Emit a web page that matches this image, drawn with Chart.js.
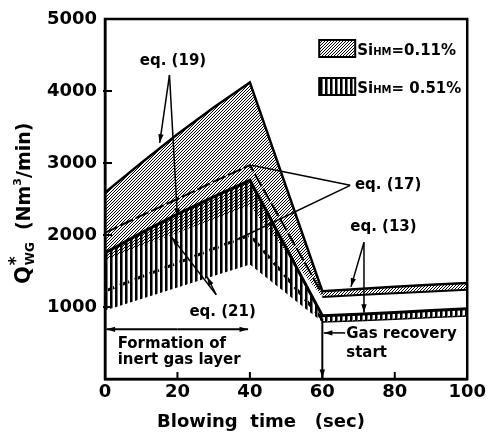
<!DOCTYPE html>
<html>
<head>
<meta charset="utf-8">
<script src="https://cdn.jsdelivr.net/npm/chart.js@4.4.1/dist/chart.umd.min.js"></script>
<style>
  body { margin: 0; background: #fff; }
  canvas { display: block; }
</style>
</head>
<body>
<canvas id="chart" width="489" height="435"></canvas>
<script>
// blowing time (sec)
const times = [0, 10, 20, 30, 40, 60, 70, 80, 90, 100];

// Si_HM = 0.11 %  (upper = eq.(19), lower = eq.(21), after 60 s eq.(13))
const upper011 = [2590, 3000, 3400, 3770, 4120, 1220, 1250, 1280, 1310, 1335];
const lower011 = [1650, 1840, 2030, 2220, 2400, 1140, 1165, 1190, 1215, 1240];
const eq17_011 = [2030, 2270, 2500, 2740, 2970, 1180, null, null, null, null];

// Si_HM = 0.51 %
const upper051 = [1750, 2030, 2290, 2530, 2760, 880, 900, 925, 950, 975];
const lower051 = [950, 1110, 1270, 1430, 1590, 790, 810, 830, 855, 875];
const eq17_051 = [1220, 1420, 1610, 1810, 2000, 830, null, null, null, null];

const FONT = 'DejaVu Sans';
const canvas = document.getElementById('chart');
const mainCtx = canvas.getContext('2d');

// hatch patterns
function diagPattern() {
  const c = document.createElement('canvas');
  c.width = 3; c.height = 3;
  const g = c.getContext('2d');
  g.fillStyle = '#000';
  for (let i = 0; i < 3; i++) g.fillRect(i, 2 - i, 1, 1);
  return mainCtx.createPattern(c, 'repeat');
}
function stripePattern() {
  const c = document.createElement('canvas');
  c.width = 5; c.height = 1;
  const g = c.getContext('2d');
  g.fillStyle = '#000';
  g.fillRect(0, 0, 2, 1);
  g.fillStyle = '#777';
  g.fillRect(2, 0, 1, 1);
  return mainCtx.createPattern(c, 'repeat');
}
const diag = diagPattern();
const stripes = stripePattern();

const pts = arr => times.map((t, i) => ({ x: t, y: arr[i] }));
const afterRecovery = col => c => (c.p0.parsed.x >= 60 ? col : 'rgba(0,0,0,0)');

function arrow(ctx, x1, y1, x2, y2, head) {
  ctx.beginPath();
  ctx.moveTo(x1, y1);
  ctx.lineTo(x2, y2);
  ctx.stroke();
  if (!head) return;
  const a = Math.atan2(y2 - y1, x2 - x1);
  ctx.beginPath();
  ctx.moveTo(x2, y2);
  ctx.lineTo(x2 - 9 * Math.cos(a - 0.3), y2 - 9 * Math.sin(a - 0.3));
  ctx.lineTo(x2 - 9 * Math.cos(a + 0.3), y2 - 9 * Math.sin(a + 0.3));
  ctx.closePath();
  ctx.fill();
}

const overlay = {
  id: 'overlay',
  afterDatasetsDraw(chart) {
    const { ctx, chartArea: a, scales: { x, y } } = chart;
    const px = v => x.getPixelForValue(v);
    const py = v => y.getPixelForValue(v);
    ctx.save();
    ctx.strokeStyle = '#000';
    ctx.fillStyle = '#000';

    // frame + inward ticks
    ctx.lineWidth = 2.5;
    ctx.strokeRect(a.left, a.top, a.right - a.left, a.bottom - a.top);
    ctx.lineWidth = 2;
    for (let v = 1000; v < 5000; v += 1000) {
      ctx.beginPath(); ctx.moveTo(a.left - 2, py(v)); ctx.lineTo(a.left + 7, py(v)); ctx.stroke();
    }
    for (let t = 20; t < 100; t += 20) {
      ctx.beginPath(); ctx.moveTo(px(t), a.bottom); ctx.lineTo(px(t), a.bottom - 7); ctx.stroke();
    }

    // pointer lines
    ctx.lineWidth = 1.5;
    arrow(ctx, px(17.8), py(4220), px(15.1), py(3280), true);
    arrow(ctx, px(17.8), py(4220), px(20.0), py(2250), true);
    arrow(ctx, px(67.7), py(2690), px(40.5), py(2970), false);
    arrow(ctx, px(67.7), py(2690), px(36.2), py(1930), false);
    arrow(ctx, px(71.5), py(1900), px(67.9), py(1280), true);
    arrow(ctx, px(71.5), py(1900), px(71.5), py(920), true);
    arrow(ctx, px(30.7), py(1170), px(18.4), py(1970), true);
    arrow(ctx, px(30.7), py(1170), px(28.2), py(1420), true);

    // inert gas layer span
    ctx.lineWidth = 2;
    arrow(ctx, px(20), py(690), px(0.4), py(690), true);
    arrow(ctx, px(20), py(690), px(39.5), py(690), true);
    // gas recovery start
    arrow(ctx, px(60), py(840), px(60), a.bottom - 1, true);
    ctx.lineWidth = 1.5;
    arrow(ctx, px(66.3), py(640), px(60.4), py(640), true);

    // texts
    ctx.textBaseline = 'middle';
    ctx.textAlign = 'left';
    ctx.font = `bold 15px ${FONT}`;
    ctx.fillText('eq. (19)', px(9.6), py(4410));
    ctx.fillText('eq. (17)', px(69.0), py(2690));
    ctx.fillText('eq. (13)', px(67.7), py(2110));
    ctx.fillText('eq. (21)', px(23.3), py(930));
    ctx.fillText('Formation of', px(3.5), py(480));
    ctx.fillText('inert gas layer', px(3.5), py(265));
    ctx.fillText('Gas recovery', px(66.6), py(620));
    ctx.fillText('start', px(66.6), py(360));

    // legend
    const lx = a.right - 148, ly = a.top + 21;
    const items = [['=0.11%', diag, 0], ['= 0.51%', stripes, 38]];
    items.forEach(([txt, pat, dy]) => {
      ctx.fillStyle = '#fff';
      ctx.fillRect(lx, ly + dy, 36, 17);
      ctx.fillStyle = pat;
      ctx.fillRect(lx, ly + dy, 36, 17);
      ctx.lineWidth = 2;
      ctx.strokeRect(lx, ly + dy, 36, 17);
      ctx.fillStyle = '#000';
      ctx.textBaseline = 'alphabetic';
      let tx = lx + 38;
      const base = ly + dy + 15;
      ctx.font = `bold 15px ${FONT}`;
      ctx.fillText('Si', tx, base); tx += ctx.measureText('Si').width;
      ctx.font = `bold 10px ${FONT}`;
      ctx.fillText('HM', tx, base); tx += ctx.measureText('HM').width;
      ctx.font = `bold 15px ${FONT}`;
      ctx.fillText(txt, tx, base);
    });
    ctx.restore();
  },
  afterDraw(chart) {
    const { ctx, chartArea: a } = chart;
    ctx.save();
    ctx.fillStyle = '#000';
    ctx.textAlign = 'left';
    ctx.textBaseline = 'alphabetic';
    // x title
    ctx.font = `bold 18px ${FONT}`;
    ctx.fillText('Blowing  time   (sec)', a.left + 52, 427);
    // y title
    ctx.translate(30, 284);
    ctx.rotate(-Math.PI / 2);
    let w = 0;
    ctx.font = `bold 21px ${FONT}`;
    ctx.fillText('Q', 0, 0); w = ctx.measureText('Q').width + 1;
    ctx.font = `bold 17px ${FONT}`;
    ctx.fillText('*', w, -9);
    ctx.font = `bold 12px ${FONT}`;
    ctx.fillText('WG', w, 4); w += ctx.measureText('WG').width + 12;
    ctx.font = `bold 19px ${FONT}`;
    ctx.fillText('(Nm', w, 0); w += ctx.measureText('(Nm').width;
    ctx.font = `bold 11px ${FONT}`;
    ctx.fillText('3', w, -9); w += ctx.measureText('3').width;
    ctx.font = `bold 19px ${FONT}`;
    ctx.fillText('/min)', w, 0);
    ctx.restore();
  }
};

const tickFont = { family: FONT, weight: 'bold', size: 18 };

new Chart(canvas, {
  type: 'line',
  data: {
    datasets: [
      { label: '0.11% eq.(19)', data: pts(upper011), borderColor: '#000', borderWidth: 2.5,
        fill: 1, backgroundColor: diag },
      { label: '0.11% eq.(21)', data: pts(lower011), borderColor: 'rgba(0,0,0,0)', borderWidth: 2,
        segment: { borderColor: afterRecovery('#000') }, fill: false },
      { label: '0.51% eq.(19)', data: pts(upper051), borderColor: '#000', borderWidth: 3,
        fill: 3, backgroundColor: stripes },
      { label: '0.51% eq.(21)', data: pts(lower051), borderColor: 'rgba(0,0,0,0)', borderWidth: 1.5,
        segment: { borderColor: afterRecovery('#000') }, fill: false },
      { label: '0.11% eq.(17)', data: pts(eq17_011), borderColor: '#000', borderWidth: 2,
        borderDash: [14, 3], fill: false },
      { label: '0.51% eq.(17)', data: pts(eq17_051), borderColor: '#000', borderWidth: 3,
        borderDash: [10, 6], fill: false }
    ]
  },
  options: {
    responsive: false,
    devicePixelRatio: 1,
    animation: false,
    layout: { padding: { top: 19, right: 19, left: 0, bottom: 0 } },
    elements: { point: { radius: 0 }, line: { tension: 0 } },
    plugins: { legend: { display: false }, tooltip: { enabled: false } },
    scales: {
      x: {
        type: 'linear', min: 0, max: 100,
        ticks: { stepSize: 20, color: '#000', font: tickFont, padding: 3, maxRotation: 0 },
        grid: { display: false, drawTicks: false },
        border: { display: true, color: '#000', width: 2.5 },
        afterFit(s) { s.height = 56; }
      },
      y: {
        min: 0, max: 5000,
        ticks: { stepSize: 1000, color: '#000', font: tickFont, padding: 8,
          callback: v => (v === 0 ? '' : String(v)) },
        grid: { display: false, drawTicks: false },
        border: { display: true, color: '#000', width: 2.5 },
        afterFit(s) { s.width = 105; }
      }
    }
  },
  plugins: [overlay]
});
</script>
</body>
</html>
